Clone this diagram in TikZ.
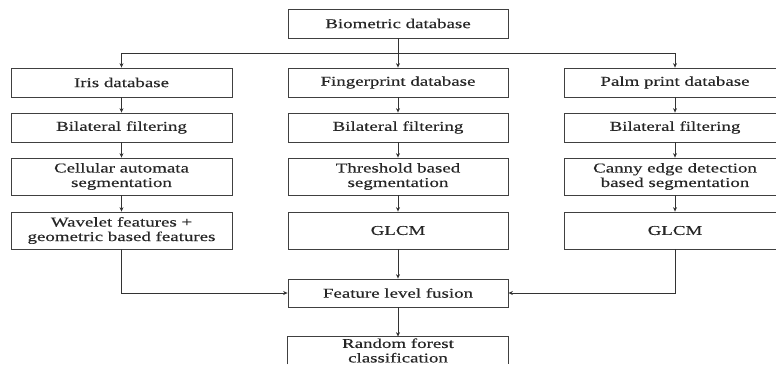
\documentclass[tikz,border=0pt]{standalone}
\usepackage{fontspec}
\setmainfont{Liberation Serif}[FakeStretch=1.4,FakeBold=0.35]
\usetikzlibrary{arrows.meta}
\begin{document}
\begin{tikzpicture}[x=1pt,y=-1pt,
  box/.style={draw=black!75, line width=0.8pt, rectangle, align=center, inner sep=0pt,
    text=black!85, font=\fontsize{13.5}{14.5}\selectfont},
  colw/.style={minimum width=221pt},
  arr/.style={draw=black!80, line width=0.8pt, -{Stealth[length=4.5pt,width=4pt]}},
  ln/.style={draw=black!80, line width=0.8pt},
  edge/.style={draw=black!75, line width=0.8pt}]
\useasboundingbox (0,0) rectangle (776,365);
\clip (0,0) rectangle (776,365);
% top
\node[box, minimum width=220pt, minimum height=29pt] (bio) at (398,23.5) {Biometric database};
% row 1
\node[box, colw, minimum height=29pt] (iris) at (121.5,82.5) {Iris database};
\node[box, minimum width=220pt, minimum height=29pt] (fp) at (398,82.5) {Fingerprint database};
\node[box, colw, minimum height=29pt] (palm) at (675,82.5) {Palm print database};
% row 2
\node[box, colw, minimum height=29pt] (bl1) at (121.5,127.5) {Bilateral filtering};
\node[box, minimum width=220pt, minimum height=29pt] (bl2) at (398,127.5) {Bilateral filtering};
\node[box, colw, minimum height=29pt] (bl3) at (675,127.5) {Bilateral filtering};
% row 3
\node[box, colw, minimum height=37pt] (seg1) at (121.5,176.5) {Cellular automata\\segmentation};
\node[box, minimum width=220pt, minimum height=37pt] (seg2) at (398,176.5) {Threshold based\\segmentation};
\node[box, colw, minimum height=37pt] (seg3) at (675,176.5) {Canny edge detection\\based segmentation};
% row 4
\node[box, colw, minimum height=37pt] (ft1) at (121.5,230.5) {Wavelet features +\\geometric based features};
\node[box, minimum width=220pt, minimum height=37pt] (ft2) at (398,230.5) {GLCM};
\node[box, colw, minimum height=37pt] (ft3) at (675,230.5) {GLCM};
% fusion
\node[box, minimum width=220pt, minimum height=28pt] (fus) at (398,293) {Feature level fusion};
% last box, cut by the lower edge of the picture
\node[box, draw=none, minimum width=220pt, minimum height=27pt] (rf) at (398,350.5) {Random forest\\classification};
\draw[edge] (rf.south west) -- (rf.north west) -- (rf.north east) -- (rf.south east);
% connectors
\coordinate (br) at (398,53);
\draw[ln] (bio.south) -- (br);
\draw[arr] (br) -| (iris);
\draw[arr] (br) -- (fp);
\draw[arr] (br) -| (palm);
\draw[arr] (iris) -- (bl1);
\draw[arr] (fp) -- (bl2);
\draw[arr] (palm) -- (bl3);
\draw[arr] (bl1) -- (seg1);
\draw[arr] (bl2) -- (seg2);
\draw[arr] (bl3) -- (seg3);
\draw[arr] (seg1) -- (ft1);
\draw[arr] (seg2) -- (ft2);
\draw[arr] (seg3) -- (ft3);
\draw[arr] (ft1.south) |- (fus.west);
\draw[arr] (ft2) -- (fus);
\draw[arr] (ft3.south) |- (fus.east);
\draw[arr] (fus) -- (rf);
\end{tikzpicture}
\end{document}
